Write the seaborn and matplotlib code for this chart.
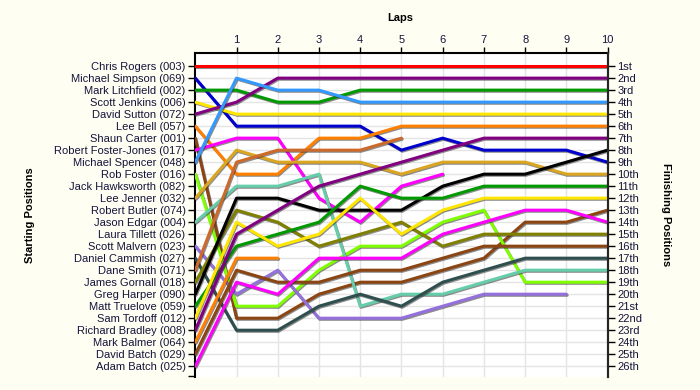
import matplotlib
matplotlib.use("Agg")
import matplotlib.pyplot as plt
import matplotlib.patheffects as pe
from matplotlib.ticker import FixedLocator
import seaborn as sns
import pandas as pd

# ---------------- data ----------------
drivers = ["Chris Rogers (003)", "Michael Simpson (069)", "Mark Litchfield (002)",
           "Scott Jenkins (006)", "David Sutton (072)", "Lee Bell (057)",
           "Shaun Carter (001)", "Robert Foster-Jones (017)", "Michael Spencer (048)",
           "Rob Foster (016)", "Jack Hawksworth (082)", "Lee Jenner (032)",
           "Robert Butler (074)", "Jason Edgar (004)", "Laura Tillett (026)",
           "Scott Malvern (023)", "Daniel Cammish (027)", "Dane Smith (071)",
           "James Gornall (018)", "Greg Harper (090)", "Matt Truelove (059)",
           "Sam Tordoff (012)", "Richard Bradley (008)", "Mark Balmer (064)",
           "David Batch (029)", "Adam Batch (025)"]

finish_labels = ["1st", "2nd", "3rd", "4th", "5th", "6th", "7th", "8th", "9th", "10th",
                 "11th", "12th", "13th", "14th", "15th", "16th", "17th", "18th", "19th",
                 "20th", "21st", "22nd", "23rd", "24th", "25th", "26th"]

line_colors = ["#FF0000", "#0000CC", "#009900", "#FFE600", "#800080", "#FF8000",
               "#8B4513", "#FF00FF", "#3399FF", "#80FF00", "#C0C0C0", "#DAA520",
               "#C0C0C0", "#66CDAA", "#C0C0C0", "#9370DB", "#2F4F4F", "#CD6A2A",
               "#808000", "#000000", "#009900", "#FFE600", "#800080", "#FF8000",
               "#8B4513", "#FF00FF"]

laps = list(range(11))
N = None
# position of each driver (in starting order) at the end of each lap
lap_0 = list(range(1, 27))
lap_1 = [1, 6, 3, 5, 4, 10, 22, 7, 2, 21, N, 8, N, 11, N, 20, 23, 9, 13, 12, 16, 14, 15, 17, 18, 19]
lap_2 = [1, 6, 4, 5, 2, 10, 22, 7, 3, 21, N, 9, N, 11, N, 18, 23, 8, 14, 12, 15, 16, 13, 17, 19, 20]
lap_3 = [1, 6, 4, 5, 2, 7, 20, 12, 3, 18, N, 9, N, 10, N, 22, 21, 8, 16, 13, 14, 15, 11, N, 19, 17]
lap_4 = [1, 6, 3, 5, 2, 7, 19, 14, 4, 16, N, 9, N, 21, N, 22, 20, 8, 15, 13, 11, 12, 10, N, 18, 17]
lap_5 = [1, 8, 3, 5, 2, 6, 19, 11, 4, 16, N, 10, N, 20, N, 22, 21, 7, 14, 13, 12, 15, 9, N, 18, 17]
lap_6 = [1, 7, 3, 5, 2, 6, 18, 10, 4, 14, N, 9, N, 20, N, 21, 19, N, 16, 11, 12, 13, 8, N, 17, 15]
lap_7 = [1, 8, 3, 5, 2, 6, 17, N, 4, 13, N, 9, N, 19, N, 20, 18, N, 15, 10, 11, 12, 7, N, 16, 14]
lap_8 = [1, 8, 3, 5, 2, 6, 14, N, 4, 19, N, 9, N, 18, N, 20, 17, N, 15, 10, 11, 12, 7, N, 16, 13]
lap_9 = [1, 8, 3, 5, 2, 6, 14, N, 4, 19, N, 10, N, 18, N, 20, 17, N, 15, 9, 11, 12, 7, N, 16, 13]
lap_10 = [1, 9, 3, 5, 2, 6, 13, N, 4, 19, N, 10, N, 18, N, N, 17, N, 15, 8, 11, 12, 7, N, 16, 14]

positions_by_lap = [lap_0, lap_1, lap_2, lap_3, lap_4, lap_5,
                    lap_6, lap_7, lap_8, lap_9, lap_10]

rows = []
for lap, arr in zip(laps, positions_by_lap):
    for d, p in zip(drivers, arr):
        if p is not None:
            rows.append((d, lap, p))
df = pd.DataFrame(rows, columns=["driver", "lap", "pos"])

# ---------------- style ----------------
sns.set_style("white")
plt.rcParams["font.family"] = ["Liberation Sans", "DejaVu Sans"]

bg = "#FFFEF2"
txt = "#14143C"

fig = plt.figure(figsize=(7, 3.9), dpi=100, facecolor=bg)
ax = fig.add_axes([0.279, 0.0333, 0.589, 0.831])
ax.set_facecolor("white")

sns.lineplot(data=df, x="lap", y="pos", hue="driver", hue_order=drivers,
             palette=dict(zip(drivers, line_colors)), estimator=None,
             legend=False, linewidth=2.2, ax=ax)

for ln in ax.lines:
    ln.set_path_effects([pe.SimpleLineShadow(offset=(0.6, -0.8), shadow_color="#303030", alpha=0.55),
                         pe.Normal()])
    ln.set_zorder(3)

ax.set_xlim(0, 10)
ax.set_ylim(26.9, -0.1)
ax.set_xlabel("")
ax.set_ylabel("")

ax.xaxis.tick_top()
ax.set_xticks(laps[1:])
ax.set_xticklabels([str(l) for l in laps[1:]])
ax.tick_params(axis="x", top=True, bottom=False, length=4, width=1, pad=2,
               labelsize=8, labelcolor=txt, color="black")

ax.set_yticks(range(1, 27))
ax.set_yticklabels(drivers)
ax.yaxis.set_minor_locator(FixedLocator([26.85]))
ax.tick_params(axis="y", which="both", left=True, length=5, width=1, pad=2,
               labelsize=8, labelcolor=txt, color="black")

ax.grid(True, color="#E4E4E4", linewidth=1)
ax.set_axisbelow(True)

for s in ["top", "left", "right"]:
    ax.spines[s].set_color("black")
    ax.spines[s].set_linewidth(1.5)
ax.spines["bottom"].set_visible(False)

ax2 = ax.twinx()
ax2.set_ylim(ax.get_ylim())
ax2.set_yticks(range(1, 27))
ax2.set_yticklabels(finish_labels)
ax2.tick_params(axis="y", right=True, length=5, width=1, pad=2,
                labelsize=8, labelcolor=txt, color="black")
ax2.spines["bottom"].set_visible(False)
ax2.spines["right"].set_linewidth(1.5)
ax2.spines["top"].set_visible(False)
ax2.spines["left"].set_visible(False)
ax2.grid(False)

fig.text(0.5714, 0.954, "Laps", ha="center", va="center", fontsize=8,
         fontweight="bold", color="black")
fig.text(0.043, 0.449, "Starting Positions", ha="center", va="center", fontsize=8,
         fontweight="bold", rotation=90, color="black")
fig.text(0.951, 0.449, "Finishing Positions", ha="center", va="center", fontsize=8,
         fontweight="bold", rotation=270, color="black")

fig.savefig("out.png", dpi=100, facecolor=bg)
